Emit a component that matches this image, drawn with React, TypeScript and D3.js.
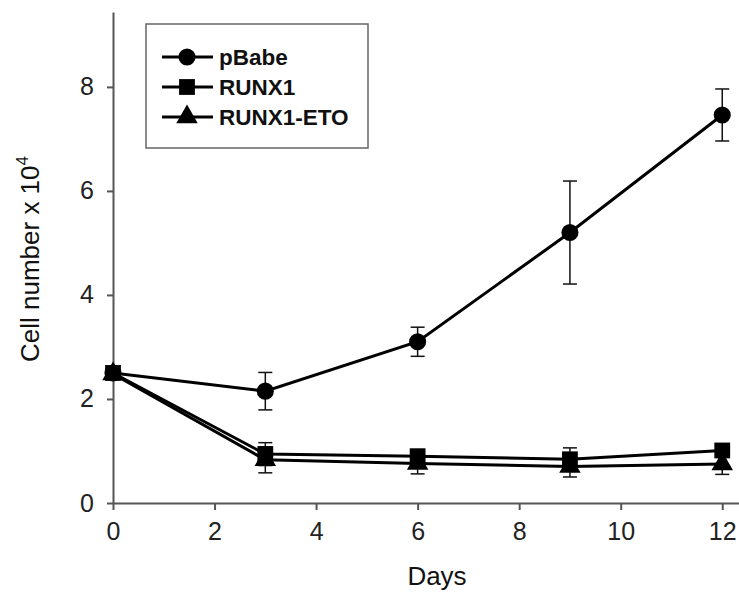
import { useEffect, useRef } from "react";
import * as d3 from "d3";

const days = [0, 3, 6, 9, 12];
const seriesNames = ["pBabe", "RUNX1", "RUNX1-ETO"];
const pBabe = [2.5, 2.15, 3.1, 5.2, 7.46];
const pBabeErr = [0.05, 0.36, 0.28, 0.99, 0.5];
const runx1 = [2.5, 0.94, 0.9, 0.84, 1.01];
const runx1Err = [0.05, 0.22, 0.1, 0.22, 0.1];
const runx1Eto = [2.48, 0.83, 0.76, 0.7, 0.75];
const runx1EtoErr = [0.05, 0.25, 0.2, 0.2, 0.2];
const yTicks = [0, 2, 4, 6, 8];
const xTicks = [0, 2, 4, 6, 8, 10, 12];

const FONT = "'Liberation Sans', Arial, sans-serif";

export default function App() {
  const ref = useRef<SVGSVGElement | null>(null);

  useEffect(() => {
    if (!ref.current) return;
    const svg = d3.select(ref.current);
    svg.selectAll("*").remove();

    const x = d3.scaleLinear().domain([0, 12.33]).range([113, 739]);
    const y = d3.scaleLinear().domain([0, 9.44]).range([503, 12]);

    const series = [
      { name: seriesNames[0], values: pBabe, err: pBabeErr, shape: d3.symbolCircle, size: 230 },
      { name: seriesNames[1], values: runx1, err: runx1Err, shape: d3.symbolSquare, size: 250 },
      { name: seriesNames[2], values: runx1Eto, err: runx1EtoErr, shape: d3.symbolTriangle, size: 200 },
    ];

    const axisColor = "#555";

    // axes
    const xAxis = svg
      .append("g")
      .attr("transform", `translate(0,${y(0)})`)
      .call(d3.axisBottom(x).tickValues(xTicks).tickSize(7).tickSizeOuter(0).tickPadding(12));
    const yAxis = svg
      .append("g")
      .attr("transform", `translate(${x(0)},0)`)
      .call(d3.axisLeft(y).tickValues(yTicks).tickSize(6).tickSizeOuter(0).tickPadding(13));

    [xAxis, yAxis].forEach((g) => {
      g.select(".domain").attr("stroke", axisColor).attr("stroke-width", 2);
      g.selectAll(".tick line").attr("stroke", axisColor).attr("stroke-width", 2);
      g.selectAll(".tick text")
        .attr("fill", "#222")
        .attr("font-family", FONT)
        .attr("font-size", 25);
    });

    // error bars
    series.forEach((s) => {
      const g = svg.append("g").attr("stroke", "#111").attr("stroke-width", 1.5);
      s.values.forEach((v, i) => {
        const e = s.err[i];
        const cx = x(days[i]);
        g.append("line").attr("x1", cx).attr("x2", cx).attr("y1", y(v - e)).attr("y2", y(v + e));
        [v - e, v + e].forEach((yy) =>
          g.append("line").attr("x1", cx - 7).attr("x2", cx + 7).attr("y1", y(yy)).attr("y2", y(yy))
        );
      });
    });

    // lines
    const line = d3
      .line<number>()
      .x((_, i) => x(days[i]))
      .y((d) => y(d));

    series.forEach((s) => {
      svg
        .append("path")
        .attr("d", line(s.values))
        .attr("fill", "none")
        .attr("stroke", "#000")
        .attr("stroke-width", 3);
    });

    // markers
    series.forEach((s) => {
      svg
        .append("g")
        .selectAll("path")
        .data(s.values)
        .join("path")
        .attr("transform", (d, i) => `translate(${x(days[i])},${y(d)})`)
        .attr("d", d3.symbol().type(s.shape).size(s.size)() as string)
        .attr("fill", "#000");
    });

    // axis titles
    svg
      .append("text")
      .attr("x", 437)
      .attr("y", 585)
      .attr("text-anchor", "middle")
      .attr("font-family", FONT)
      .attr("font-size", 26)
      .attr("fill", "#111")
      .text("Days");

    const yl = svg
      .append("text")
      .attr("transform", `translate(39,259) rotate(-90)`)
      .attr("text-anchor", "middle")
      .attr("font-family", FONT)
      .attr("font-size", 26)
      .attr("fill", "#111");
    yl.append("tspan").text("Cell number x 10");
    yl.append("tspan").attr("dy", -11).attr("font-size", 17).text("4");

    // legend
    const lg = svg.append("g");
    lg.append("rect")
      .attr("x", 146)
      .attr("y", 24)
      .attr("width", 222)
      .attr("height", 124)
      .attr("fill", "#fff")
      .attr("stroke", "#666")
      .attr("stroke-width", 1.5);
    series.forEach((s, i) => {
      const ly = 57 + i * 30;
      lg.append("line")
        .attr("x1", 162)
        .attr("x2", 213)
        .attr("y1", ly)
        .attr("y2", ly)
        .attr("stroke", "#000")
        .attr("stroke-width", 3);
      lg.append("path")
        .attr("transform", `translate(187,${ly})`)
        .attr("d", d3.symbol().type(s.shape).size(s.size)() as string)
        .attr("fill", "#000");
      lg.append("text")
        .attr("x", 219)
        .attr("y", ly + 8)
        .attr("font-family", FONT)
        .attr("font-weight", "bold")
        .attr("font-size", 22.5)
        .attr("fill", "#111")
        .text(s.name);
    });
  }, []);

  return (
    <svg
      ref={ref}
      width={739}
      height={592}
      style={{ position: "absolute", left: 0, top: 0, background: "#fff" }}
    />
  );
}
